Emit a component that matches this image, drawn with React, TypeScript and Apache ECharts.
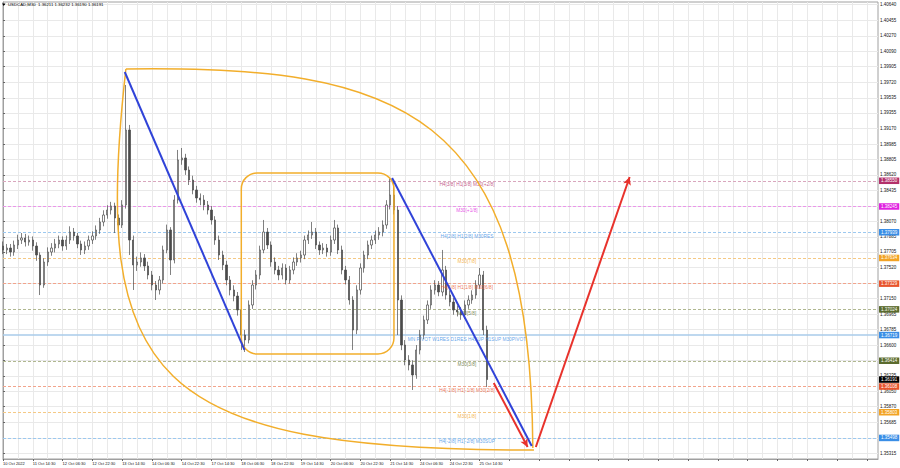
import { useEffect, useRef } from 'react';
import * as echarts from 'echarts';

const FONT = '"Liberation Sans", Arial, sans-serif';
const TITLE = 'USDCAD,M30  1.36211 1.36232 1.36190 1.36191';

// 2-hour candles, each [open, close, low, high]
const candles: number[][] = [
  [1.37776, 1.37729, 1.37680, 1.37830], [1.37729, 1.37752, 1.37680, 1.37800], [1.37752, 1.37705, 1.37650, 1.37800],
  [1.37705, 1.37788, 1.37660, 1.37840], [1.37788, 1.37847, 1.37740, 1.37910], [1.37847, 1.37871, 1.37800, 1.37930],
  [1.37871, 1.37823, 1.37770, 1.37920], [1.37823, 1.37847, 1.37780, 1.37900], [1.37847, 1.37776, 1.37720, 1.37890],
  [1.37776, 1.37669, 1.37600, 1.37820], [1.37669, 1.37313, 1.37194, 1.37700], [1.37313, 1.37586, 1.37280, 1.37630],
  [1.37586, 1.37705, 1.37540, 1.37760], [1.37705, 1.37752, 1.37660, 1.37810], [1.37752, 1.37800, 1.37700, 1.37860],
  [1.37800, 1.37847, 1.37750, 1.37900], [1.37847, 1.37776, 1.37720, 1.37890], [1.37776, 1.37847, 1.37730, 1.37900],
  [1.37847, 1.37942, 1.37800, 1.38010], [1.37942, 1.37895, 1.37840, 1.37990], [1.37895, 1.37800, 1.37750, 1.37930],
  [1.37800, 1.37729, 1.37670, 1.37840], [1.37729, 1.37776, 1.37680, 1.37830], [1.37776, 1.37847, 1.37730, 1.37900],
  [1.37847, 1.37895, 1.37800, 1.37950], [1.37895, 1.37966, 1.37850, 1.38020], [1.37966, 1.38061, 1.37920, 1.38110],
  [1.38061, 1.38144, 1.38010, 1.38200], [1.38144, 1.38203, 1.38100, 1.38260], [1.38203, 1.38251, 1.38150, 1.38300],
  [1.38251, 1.38108, 1.37930, 1.38290], [1.38108, 1.38025, 1.37960, 1.38150], [1.38025, 1.38263, 1.37990, 1.38320],
  [1.38263, 1.39153, 1.38220, 1.39687], [1.39153, 1.37847, 1.37669, 1.39213], [1.37847, 1.37551, 1.37254, 1.37900],
  [1.37551, 1.37586, 1.37480, 1.37650], [1.37586, 1.37634, 1.37530, 1.37700], [1.37634, 1.37539, 1.37480, 1.37680],
  [1.37539, 1.37432, 1.37380, 1.37590], [1.37432, 1.37313, 1.37250, 1.37480], [1.37313, 1.37254, 1.37135, 1.37360],
  [1.37254, 1.37373, 1.37200, 1.37420], [1.37373, 1.37729, 1.37330, 1.37780], [1.37729, 1.37966, 1.37690, 1.38030],
  [1.37966, 1.37610, 1.37432, 1.38000], [1.37610, 1.38322, 1.37570, 1.38380], [1.38322, 1.38797, 1.38280, 1.38916],
  [1.38797, 1.38821, 1.38740, 1.38939], [1.38821, 1.38678, 1.38620, 1.38870], [1.38678, 1.38559, 1.38500, 1.38720],
  [1.38559, 1.38441, 1.38390, 1.38610], [1.38441, 1.38346, 1.38290, 1.38490], [1.38346, 1.38322, 1.38260, 1.38400],
  [1.38322, 1.38263, 1.38200, 1.38380], [1.38263, 1.38203, 1.38150, 1.38310], [1.38203, 1.38085, 1.38030, 1.38250],
  [1.38085, 1.37847, 1.37790, 1.38130], [1.37847, 1.37669, 1.37610, 1.37900], [1.37669, 1.37551, 1.37490, 1.37720],
  [1.37551, 1.37373, 1.37310, 1.37600], [1.37373, 1.37254, 1.37190, 1.37420], [1.37254, 1.37182, 1.37120, 1.37310],
  [1.37182, 1.37017, 1.36950, 1.37230], [1.37017, 1.36720, 1.36542, 1.37060], [1.36720, 1.36661, 1.36518, 1.36780],
  [1.36661, 1.37076, 1.36620, 1.37130], [1.37076, 1.37313, 1.37030, 1.37370], [1.37313, 1.37432, 1.37260, 1.37490],
  [1.37432, 1.37729, 1.37380, 1.37780], [1.37729, 1.37942, 1.37690, 1.38085], [1.37942, 1.37788, 1.37740, 1.37990],
  [1.37788, 1.37586, 1.37530, 1.37830], [1.37586, 1.37491, 1.37440, 1.37640], [1.37491, 1.37432, 1.37370, 1.37540],
  [1.37432, 1.37515, 1.37380, 1.37570], [1.37515, 1.37373, 1.37320, 1.37560], [1.37373, 1.37491, 1.37330, 1.37540],
  [1.37491, 1.37586, 1.37440, 1.37640], [1.37586, 1.37634, 1.37540, 1.37690], [1.37634, 1.37669, 1.37580, 1.37720],
  [1.37669, 1.37847, 1.37620, 1.37900], [1.37847, 1.37907, 1.37800, 1.37960], [1.37907, 1.37942, 1.37860, 1.38061],
  [1.37942, 1.37788, 1.37740, 1.37990], [1.37788, 1.37729, 1.37670, 1.37830], [1.37729, 1.37752, 1.37680, 1.37810],
  [1.37752, 1.37705, 1.37650, 1.37800], [1.37705, 1.37847, 1.37660, 1.37900], [1.37847, 1.37990, 1.37800, 1.38085],
  [1.37990, 1.37729, 1.37680, 1.38030], [1.37729, 1.37491, 1.37440, 1.37780], [1.37491, 1.37373, 1.37320, 1.37540],
  [1.37373, 1.37135, 1.37080, 1.37420], [1.37135, 1.36779, 1.36542, 1.37180], [1.36779, 1.37254, 1.36730, 1.37310],
  [1.37254, 1.37515, 1.37200, 1.37570], [1.37515, 1.37669, 1.37460, 1.37720], [1.37669, 1.37788, 1.37620, 1.37840],
  [1.37788, 1.37847, 1.37740, 1.37900], [1.37847, 1.37907, 1.37800, 1.37960], [1.37907, 1.37942, 1.37850, 1.38000],
  [1.37942, 1.38025, 1.37890, 1.38080], [1.38025, 1.38263, 1.37980, 1.38320], [1.38263, 1.38381, 1.38210, 1.38583],
  [1.38381, 1.38203, 1.38150, 1.38559], [1.38203, 1.37135, 1.36720, 1.38250], [1.37135, 1.36601, 1.36540, 1.37190],
  [1.36601, 1.36423, 1.36360, 1.36660], [1.36423, 1.36364, 1.36300, 1.36480], [1.36364, 1.36245, 1.36067, 1.36420],
  [1.36245, 1.36542, 1.36200, 1.36600], [1.36542, 1.36720, 1.36490, 1.36780], [1.36720, 1.36898, 1.36670, 1.36950],
  [1.36898, 1.37076, 1.36850, 1.37130], [1.37076, 1.37254, 1.37030, 1.37310], [1.37254, 1.37313, 1.37200, 1.37370],
  [1.37313, 1.37230, 1.37180, 1.37360], [1.37230, 1.37491, 1.37180, 1.37729], [1.37491, 1.37194, 1.37140, 1.37540],
  [1.37194, 1.37111, 1.37060, 1.37250], [1.37111, 1.37017, 1.36960, 1.37160], [1.37017, 1.36993, 1.36940, 1.37070],
  [1.36993, 1.36957, 1.36900, 1.37050], [1.36957, 1.37076, 1.36910, 1.37130], [1.37076, 1.37135, 1.37030, 1.37190],
  [1.37135, 1.37194, 1.37090, 1.37250], [1.37194, 1.37313, 1.37150, 1.37370], [1.37313, 1.37432, 1.37270, 1.37515],
  [1.37432, 1.36779, 1.36720, 1.37480], [1.36779, 1.36191, 1.36102, 1.36830],
];

const CATEGORY_COUNT = 236;
const categories = Array.from({ length: CATEGORY_COUNT }, (_, i) => String(i));
const xTickLabels = [
  '10 Oct 2022', '11 Oct 14:30', '12 Oct 06:30', '12 Oct 22:30', '13 Oct 14:30', '14 Oct 06:30',
  '14 Oct 22:30', '17 Oct 14:30', '18 Oct 06:30', '18 Oct 22:30', '19 Oct 14:30', '20 Oct 06:30',
  '20 Oct 22:30', '21 Oct 14:30', '24 Oct 06:30', '24 Oct 22:30', '25 Oct 14:30',
];

const Y_MIN = 1.35248;
const Y_MAX = 1.40672;
const yTicks = [
  1.40640, 1.40455, 1.40270, 1.40090, 1.39905, 1.39720, 1.39535, 1.39355, 1.39170, 1.38985,
  1.38805, 1.38620, 1.38435, 1.38250, 1.38070, 1.37885, 1.37705, 1.37520, 1.37335, 1.37150,
  1.36965, 1.36785, 1.36600, 1.36415, 1.36235, 1.36050, 1.35870, 1.35685, 1.35500, 1.35315,
];

const levelValues = [1.38550, 1.38245, 1.37939, 1.37634, 1.37329, 1.37024, 1.36719, 1.36414, 1.36108, 1.35803, 1.35498];
const levelTexts = [
  'H4[3/8] H1[3/8] M30[+2/8]', 'M30[+1/8]', 'H4[2/8] H1[2/8] M30RES', 'M30[7/8]',
  'H4[1/8] H1[1/8] M30[6/8]', 'M30[5/8]', 'MN PIVOT W1RES D1RES H4SUP H1SUP M30PIVOT', 'M30[3/8]',
  'H4[-1/8] H1[-1/8] M30[2/8]', 'M30[1/8]', 'H4[-2/8] H1[-2/8] M30SUP',
];
const levelTagColors = ['#b3306a', '#e022e0', '#3a8ee6', '#f2a324', '#e8542c', '#5b6b2e', '#3a8ee6', '#5b6b2e', '#e8542c', '#f2a324', '#3a8ee6'];
const levelLineColors = ['#d9a6bd', '#eb95eb', '#9cc8ef', '#f5c985', '#f2a48c', '#b0b790', '#a9cbea', '#b0b790', '#f2a48c', '#f5c985', '#9cc8ef'];
const lastPrice = 1.36191;
const LABEL_X = 124.6;

const trendLines = [
  [[32.7, 1.39841], [64.85, 1.36542]],
  [[104.5, 1.38583], [142.0, 1.35402]],
];
const arrows = [
  [[131.8, 1.36150], [140.9, 1.35390]],
  [[143.1, 1.35390], [168.3, 1.38595]],
];
const boxCorners = [[64.0, 1.38643], [105.0, 1.36494]];
const outerCurve = [[33.0, 1.39877], [106.9, 1.39924], [141.7, 1.39390], [142.3, 1.35378]];
const innerCurve = [[33.0, 1.39877], [23.5, 1.36185], [39.9, 1.35354], [142.6, 1.35354]];

const ORANGE = '#f2ae2b';
const BLUE = '#3043d8';
const RED = '#e8322c';
const GRID = '#e9e9e9';

function buildOption(): any {
  const tagLabel = (text: string, bg: string) => ({
    show: true,
    position: 'end',
    distance: 1,
    formatter: text,
    backgroundColor: bg,
    color: '#ffffff',
    fontSize: 4.5,
    fontFamily: FONT,
    padding: [1, 2, 0.5, 2],
  });
  const levelMarks: any[] = levelValues.map((v, k) => ({
    yAxis: v,
    lineStyle: {
      color: levelLineColors[k],
      type: k === 6 ? 'solid' : [3, 2],
      width: k === 6 ? 1.5 : 1,
    },
    label: tagLabel(v.toFixed(5), levelTagColors[k]),
  }));
  levelMarks.push({
    yAxis: lastPrice,
    lineStyle: { color: 'rgba(0,0,0,0)', width: 1 },
    label: tagLabel(lastPrice.toFixed(5), '#000000'),
  });

  return {
    animation: false,
    backgroundColor: '#ffffff',
    textStyle: { fontFamily: FONT },
    grid: { left: 1, right: 22, top: 2, bottom: 9, show: true, borderColor: '#a0a0a0', borderWidth: 1 },
    xAxis: [
      {
        type: 'category',
        data: categories,
        boundaryGap: false,
        axisLine: { show: true, lineStyle: { color: '#a0a0a0', width: 1 } },
        axisTick: { show: true, interval: 7, length: 2, lineStyle: { color: '#666' } },
        axisLabel: {
          show: true,
          interval: 7,
          fontSize: 4,
          color: '#111',
          margin: 2,
          align: 'left',
          fontFamily: FONT,
          formatter: (_v: string, idx: number) => xTickLabels[idx / 8] ?? '',
        },
        splitLine: { show: true, interval: 3, lineStyle: { color: GRID, width: 1 } },
      },
      { type: 'value', min: 0, max: CATEGORY_COUNT - 1, show: false },
    ],
    yAxis: {
      type: 'value',
      position: 'right',
      min: Y_MIN,
      max: Y_MAX,
      axisLine: { show: true, lineStyle: { color: '#a0a0a0' } },
      axisTick: { show: true, customValues: yTicks, length: 2, lineStyle: { color: '#666' } },
      axisLabel: {
        customValues: yTicks,
        formatter: (v: number) => v.toFixed(5),
        fontSize: 4.5,
        margin: 2,
        color: '#111',
        fontFamily: FONT,
      },
      splitLine: { show: true, lineStyle: { color: GRID, width: 1 } },
    },
    series: [
      {
        name: 'levels',
        type: 'line',
        xAxisIndex: 1,
        data: [],
        silent: true,
        markLine: {
          silent: true,
          z: 1,
          precision: 5,
          symbol: 'none',
          data: levelMarks,
        },
      },
      {
        name: 'USDCAD',
        type: 'candlestick',
        xAxisIndex: 0,
        yAxisIndex: 0,
        data: candles,
        barWidth: 1.8,
        z: 3,
        itemStyle: {
          color: '#ffffff',
          color0: '#4a4a4a',
          borderColor: '#4a4a4a',
          borderColor0: '#4a4a4a',
          borderWidth: 0.7,
        },
      },
      {
        name: 'levelText',
        type: 'scatter',
        xAxisIndex: 1,
        symbolSize: 1,
        z: 4,
        itemStyle: { color: 'rgba(0,0,0,0)' },
        data: levelValues.map((v, k) => ({
          value: [LABEL_X, v],
          label: { color: levelTagColors[k], formatter: levelTexts[k] },
        })),
        label: { show: true, position: 'inside', offset: [0, 4], fontSize: 4.8, fontFamily: FONT },
      },
      ...trendLines.map((pts, k) => ({
        name: 'trend' + k,
        type: 'line',
        xAxisIndex: 1,
        data: pts,
        symbol: 'none',
        z: 6,
        lineStyle: { color: BLUE, width: 2 },
      })),
      {
        name: 'arrows',
        type: 'line',
        xAxisIndex: 1,
        data: [],
        markLine: {
          silent: true,
          z: 7,
          precision: 5,
          symbol: ['none', 'arrow'],
          symbolSize: [6, 8],
          label: { show: false },
          lineStyle: { color: RED, width: 2, type: 'solid' },
          data: arrows.map((a) => [{ coord: a[0] }, { coord: a[1] }]),
        },
      },
    ],
  };
}

export default function App() {
  const ref = useRef<HTMLDivElement>(null);
  useEffect(() => {
    document.body.style.margin = '0';
    const chart = echarts.init(ref.current as HTMLDivElement, undefined, { renderer: 'svg' });
    chart.setOption(buildOption());
    const px = (p: number[]) => chart.convertToPixel({ xAxisIndex: 1, yAxisIndex: 0 } as any, p) as unknown as number[];
    const b0 = px(boxCorners[0]);
    const b1 = px(boxCorners[1]);
    const curve = (c: number[][]) => {
      const p = c.map(px);
      return {
        type: 'bezierCurve',
        z: 5,
        shape: { x1: p[0][0], y1: p[0][1], cpx1: p[1][0], cpy1: p[1][1], cpx2: p[2][0], cpy2: p[2][1], x2: p[3][0], y2: p[3][1] },
        style: { stroke: ORANGE, fill: 'none', lineWidth: 1.5 },
      };
    };
    chart.setOption({
      graphic: [
        {
          type: 'rect',
          z: 5,
          shape: { x: b0[0], y: b0[1], width: b1[0] - b0[0], height: b1[1] - b0[1], r: 16 },
          style: { stroke: ORANGE, fill: 'none', lineWidth: 1.5 },
        },
        curve(outerCurve),
        curve(innerCurve),
        {
          type: 'polygon',
          z: 10,
          shape: { points: [[2, 3.5], [5.5, 3.5], [3.75, 6]] },
          style: { fill: '#000' },
        },
        {
          type: 'text',
          z: 10,
          x: 8,
          y: 2.6,
          style: { text: TITLE, fontSize: 4.3, fill: '#000', fontFamily: FONT },
        },
      ],
    });
    return () => chart.dispose();
  }, []);
  return <div ref={ref} style={{ width: 900, height: 468 }} />;
}
